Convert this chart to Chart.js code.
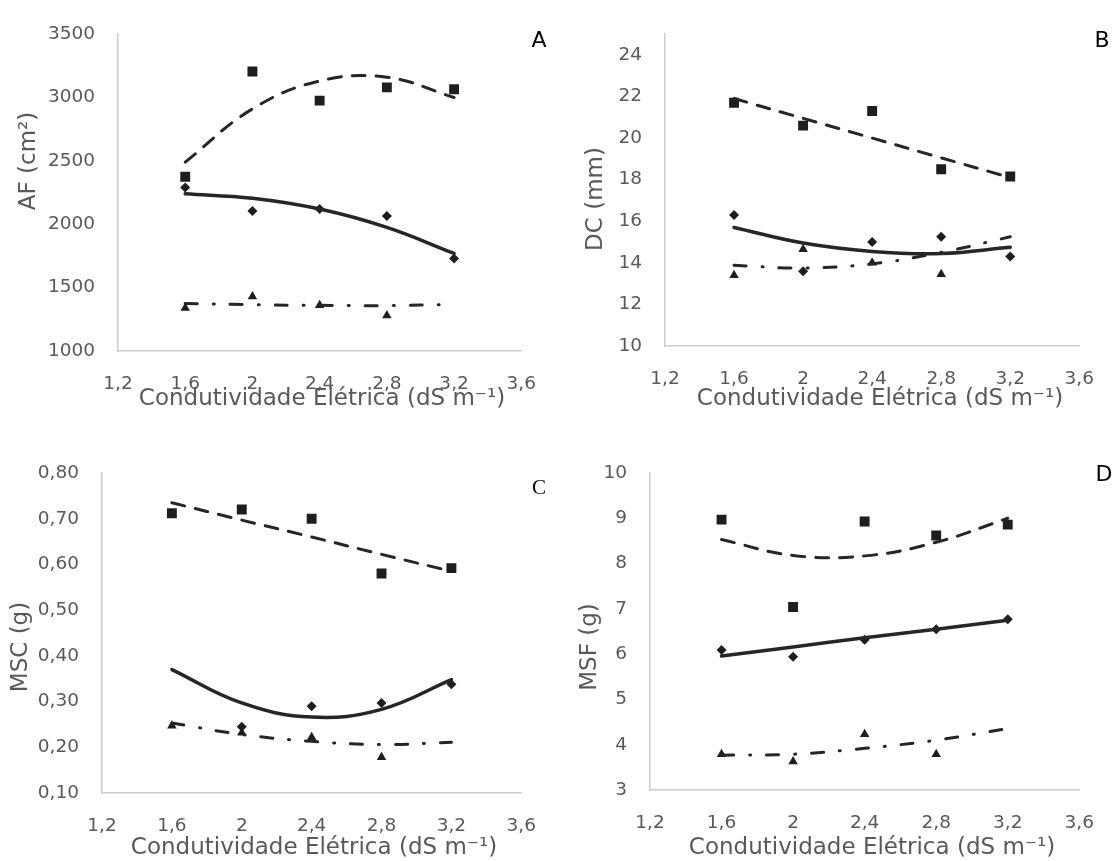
<!DOCTYPE html>
<html>
<head>
<meta charset="utf-8">
<script src="https://cdn.jsdelivr.net/npm/chart.js@4.4.0/dist/chart.umd.min.js"></script>
<style>
body { margin: 0; background: #fff; }
#wrap { position: relative; width: 1116px; height: 861px; background: #fff; }
canvas { position: absolute; }
</style>
</head>
<body>
<div id="wrap">
  <canvas id="chartA" width="558" height="430" style="left:0;top:0"></canvas>
  <canvas id="chartB" width="558" height="430" style="left:558px;top:0"></canvas>
  <canvas id="chartC" width="558" height="431" style="left:0;top:430px"></canvas>
  <canvas id="chartD" width="558" height="431" style="left:558px;top:430px"></canvas>
</div>
<script>
// data
const ec = [1.6, 2.0, 2.4, 2.8, 3.2];
const ecTicks = [1.2, 1.6, 2.0, 2.4, 2.8, 3.2, 3.6];

// A - AF (cm2)
const afSquare = [2375, 3205, 2975, 3080, 3065];
const afDiamond = [2290, 2105, 2120, 2065, 1730];
const afTriangle = [1340, 1430, 1360, 1280, null];
const afSquareFit = [2490, 2910, 3130, 3160, 3000];
const afDiamondFit = [2240, 2205, 2120, 1975, 1770];
const afTriangleFit = [1375, 1365, 1360, 1358, 1368];
const afTicks = [1000, 1500, 2000, 2500, 3000, 3500];

// B - DC (mm)
const dcSquare = [21.7, 20.6, 21.3, 18.5, 18.15];
const dcDiamond = [16.3, 13.6, 15.0, 15.25, 14.3];
const dcTriangle = [13.4, 14.65, 14.0, 13.45, null];
const dcSquareFit = [21.9, 20.95, 20.0, 19.05, 18.1];
const dcDiamondFit = [15.7, 14.95, 14.55, 14.45, 14.75];
const dcTriangleFit = [13.88, 13.75, 13.95, 14.5, 15.25];
const dcTicks = [10, 12, 14, 16, 18, 20, 22, 24];

// C - MSC (g)
const mscSquare = [0.712, 0.72, 0.70, 0.58, 0.592];
const mscDiamond = [null, 0.245, 0.29, 0.297, 0.338];
const mscTriangle = [0.247, 0.232, 0.222, 0.178, null];
const mscSquareFit = [0.735, 0.697, 0.66, 0.622, 0.585];
const mscDiamondFit = [0.37, 0.297, 0.266, 0.283, 0.348];
const mscTriangleFit = [0.253, 0.228, 0.213, 0.206, 0.211];
const mscTicks = [0.1, 0.2, 0.3, 0.4, 0.5, 0.6, 0.7, 0.8];

// D - MSF (g)
const msfSquare = [8.97, 7.04, 8.93, 8.62, 8.86];
const msfDiamond = [6.09, 5.94, 6.32, 6.55, 6.77];
const msfTriangle = [3.79, 3.63, 4.23, 3.79, null];
const msfSquareFit = [8.53, 8.18, 8.17, 8.47, 9.0];
const msfDiamondFit = [5.96, 6.16, 6.36, 6.55, 6.75];
const msfTriangleFit = [3.77, 3.79, 3.92, 4.1, 4.36];
const msfTicks = [3, 4, 5, 6, 7, 8, 9, 10];

const xTitle = 'Condutividade Elétrica (dS m⁻¹)';
const gray = '#595959';
const ink = '#1e1e1e';

Chart.defaults.font.family = '"DejaVu Sans", Verdana, sans-serif';

function pts(ys) {
    return ec.map((x, i) => ({ x: x, y: ys[i] })).filter(p => p.y !== null);
}

function trend(ys, dash, width) {
    return {
        data: pts(ys),
        showLine: true,
        borderColor: '#262626',
        borderWidth: width,
        borderDash: dash,
        borderCapStyle: 'round',
        tension: 0.4,
        pointRadius: 0,
        fill: false
    };
}

function marks(ys, style, r) {
    return {
        data: pts(ys),
        showLine: false,
        pointStyle: style,
        pointRadius: r,
        pointBackgroundColor: ink,
        pointBorderColor: ink,
        pointBorderWidth: 0
    };
}

function fmtX(v) {
    return String(Math.round(v * 10) / 10).replace('.', ',');
}

function drawPanel(id, o) {
    const labels = {
        id: 'labels',
        afterDraw(chart) {
            const ctx = chart.ctx;
            ctx.save();
            ctx.fillStyle = gray;
            ctx.font = '23px "DejaVu Sans"';
            ctx.textAlign = 'center';
            ctx.textBaseline = 'middle';
            ctx.fillText(xTitle, o.xTitle[0], o.xTitle[1]);
            ctx.save();
            ctx.translate(o.yTitle[0], o.yTitle[1]);
            ctx.rotate(-Math.PI / 2);
            ctx.fillText(o.yText, 0, 0);
            ctx.restore();
            ctx.fillStyle = '#000';
            ctx.font = o.letterFont;
            ctx.fillText(o.letter, o.letterPos[0], o.letterPos[1]);
            ctx.restore();
        }
    };

    new Chart(document.getElementById(id), {
        type: 'scatter',
        data: {
            datasets: [
                trend(o.fits[0], [13, 11], 3),
                trend(o.fits[1], [], 3.5),
                trend(o.fits[2], [12, 16, 1, 16], 3),
                marks(o.marks[0], 'rect', 7),
                marks(o.marks[1], 'rectRot', 5),
                marks(o.marks[2], 'triangle', 5.5)
            ]
        },
        options: {
            responsive: false,
            animation: false,
            events: [],
            layout: { padding: { left: 0, top: o.top, right: o.padRight, bottom: 0 } },
            plugins: { legend: { display: false }, tooltip: { enabled: false } },
            scales: {
                x: {
                    type: 'linear',
                    min: 1.2,
                    max: 3.6,
                    afterBuildTicks: s => { s.ticks = ecTicks.map(v => ({ value: v })); },
                    afterFit: s => { s.height = o.xAxisH; },
                    grid: { display: false, drawTicks: false },
                    border: { display: true, color: '#cccccc', width: 1.5 },
                    ticks: { padding: 22, color: gray, font: { size: 18.5 }, maxRotation: 0, autoSkip: false, callback: fmtX }
                },
                y: {
                    type: 'linear',
                    min: o.yMin,
                    max: o.yMax,
                    afterBuildTicks: s => { s.ticks = o.yTicks.map(v => ({ value: v })); },
                    afterFit: s => { s.width = o.yAxisW; },
                    grid: { display: false, drawTicks: false },
                    border: { display: true, color: '#cccccc', width: 1.5 },
                    ticks: { padding: 23, color: gray, font: { size: 18.5 }, autoSkip: false, callback: o.yFmt }
                }
            }
        },
        plugins: [labels]
    });
}

drawPanel('chartA', {
    marks: [afSquare, afDiamond, afTriangle],
    fits: [afSquareFit, afDiamondFit, afTriangleFit],
    yMin: 1000, yMax: 3500, yTicks: afTicks, yFmt: v => String(v),
    top: 29, padRight: 31, yAxisW: 118, xAxisH: 79,
    yText: 'AF (cm²)', yTitle: [29, 161], xTitle: [322, 399],
    letter: 'A', letterPos: [539, 41], letterFont: '22px "DejaVu Sans"'
});

drawPanel('chartB', {
    marks: [dcSquare, dcDiamond, dcTriangle],
    fits: [dcSquareFit, dcDiamondFit, dcTriangleFit],
    yMin: 10, yMax: 25, yTicks: dcTicks, yFmt: v => String(v),
    top: 28, padRight: 20, yAxisW: 107, xAxisH: 84,
    yText: 'DC (mm)', yTitle: [38, 199], xTitle: [322, 399],
    letter: 'B', letterPos: [544, 41], letterFont: '22px "DejaVu Sans"'
});

drawPanel('chartC', {
    marks: [mscSquare, mscDiamond, mscTriangle],
    fits: [mscSquareFit, mscDiamondFit, mscTriangleFit],
    yMin: 0.1, yMax: 0.8, yTicks: mscTicks, yFmt: v => v.toFixed(2).replace('.', ','),
    top: 43, padRight: 31, yAxisW: 102, xAxisH: 68,
    yText: 'MSC (g)', yTitle: [21, 217], xTitle: [314, 418],
    letter: 'C', letterPos: [539, 58], letterFont: '21px "Liberation Serif"'
});

drawPanel('chartD', {
    marks: [msfSquare, msfDiamond, msfTriangle],
    fits: [msfSquareFit, msfDiamondFit, msfTriangleFit],
    yMin: 3, yMax: 10, yTicks: msfTicks, yFmt: v => String(v),
    top: 43, padRight: 22, yAxisW: 92, xAxisH: 71,
    yText: 'MSF (g)', yTitle: [32, 217], xTitle: [314, 418],
    letter: 'D', letterPos: [546, 45], letterFont: '22px "DejaVu Sans"'
});
</script>
</body>
</html>
